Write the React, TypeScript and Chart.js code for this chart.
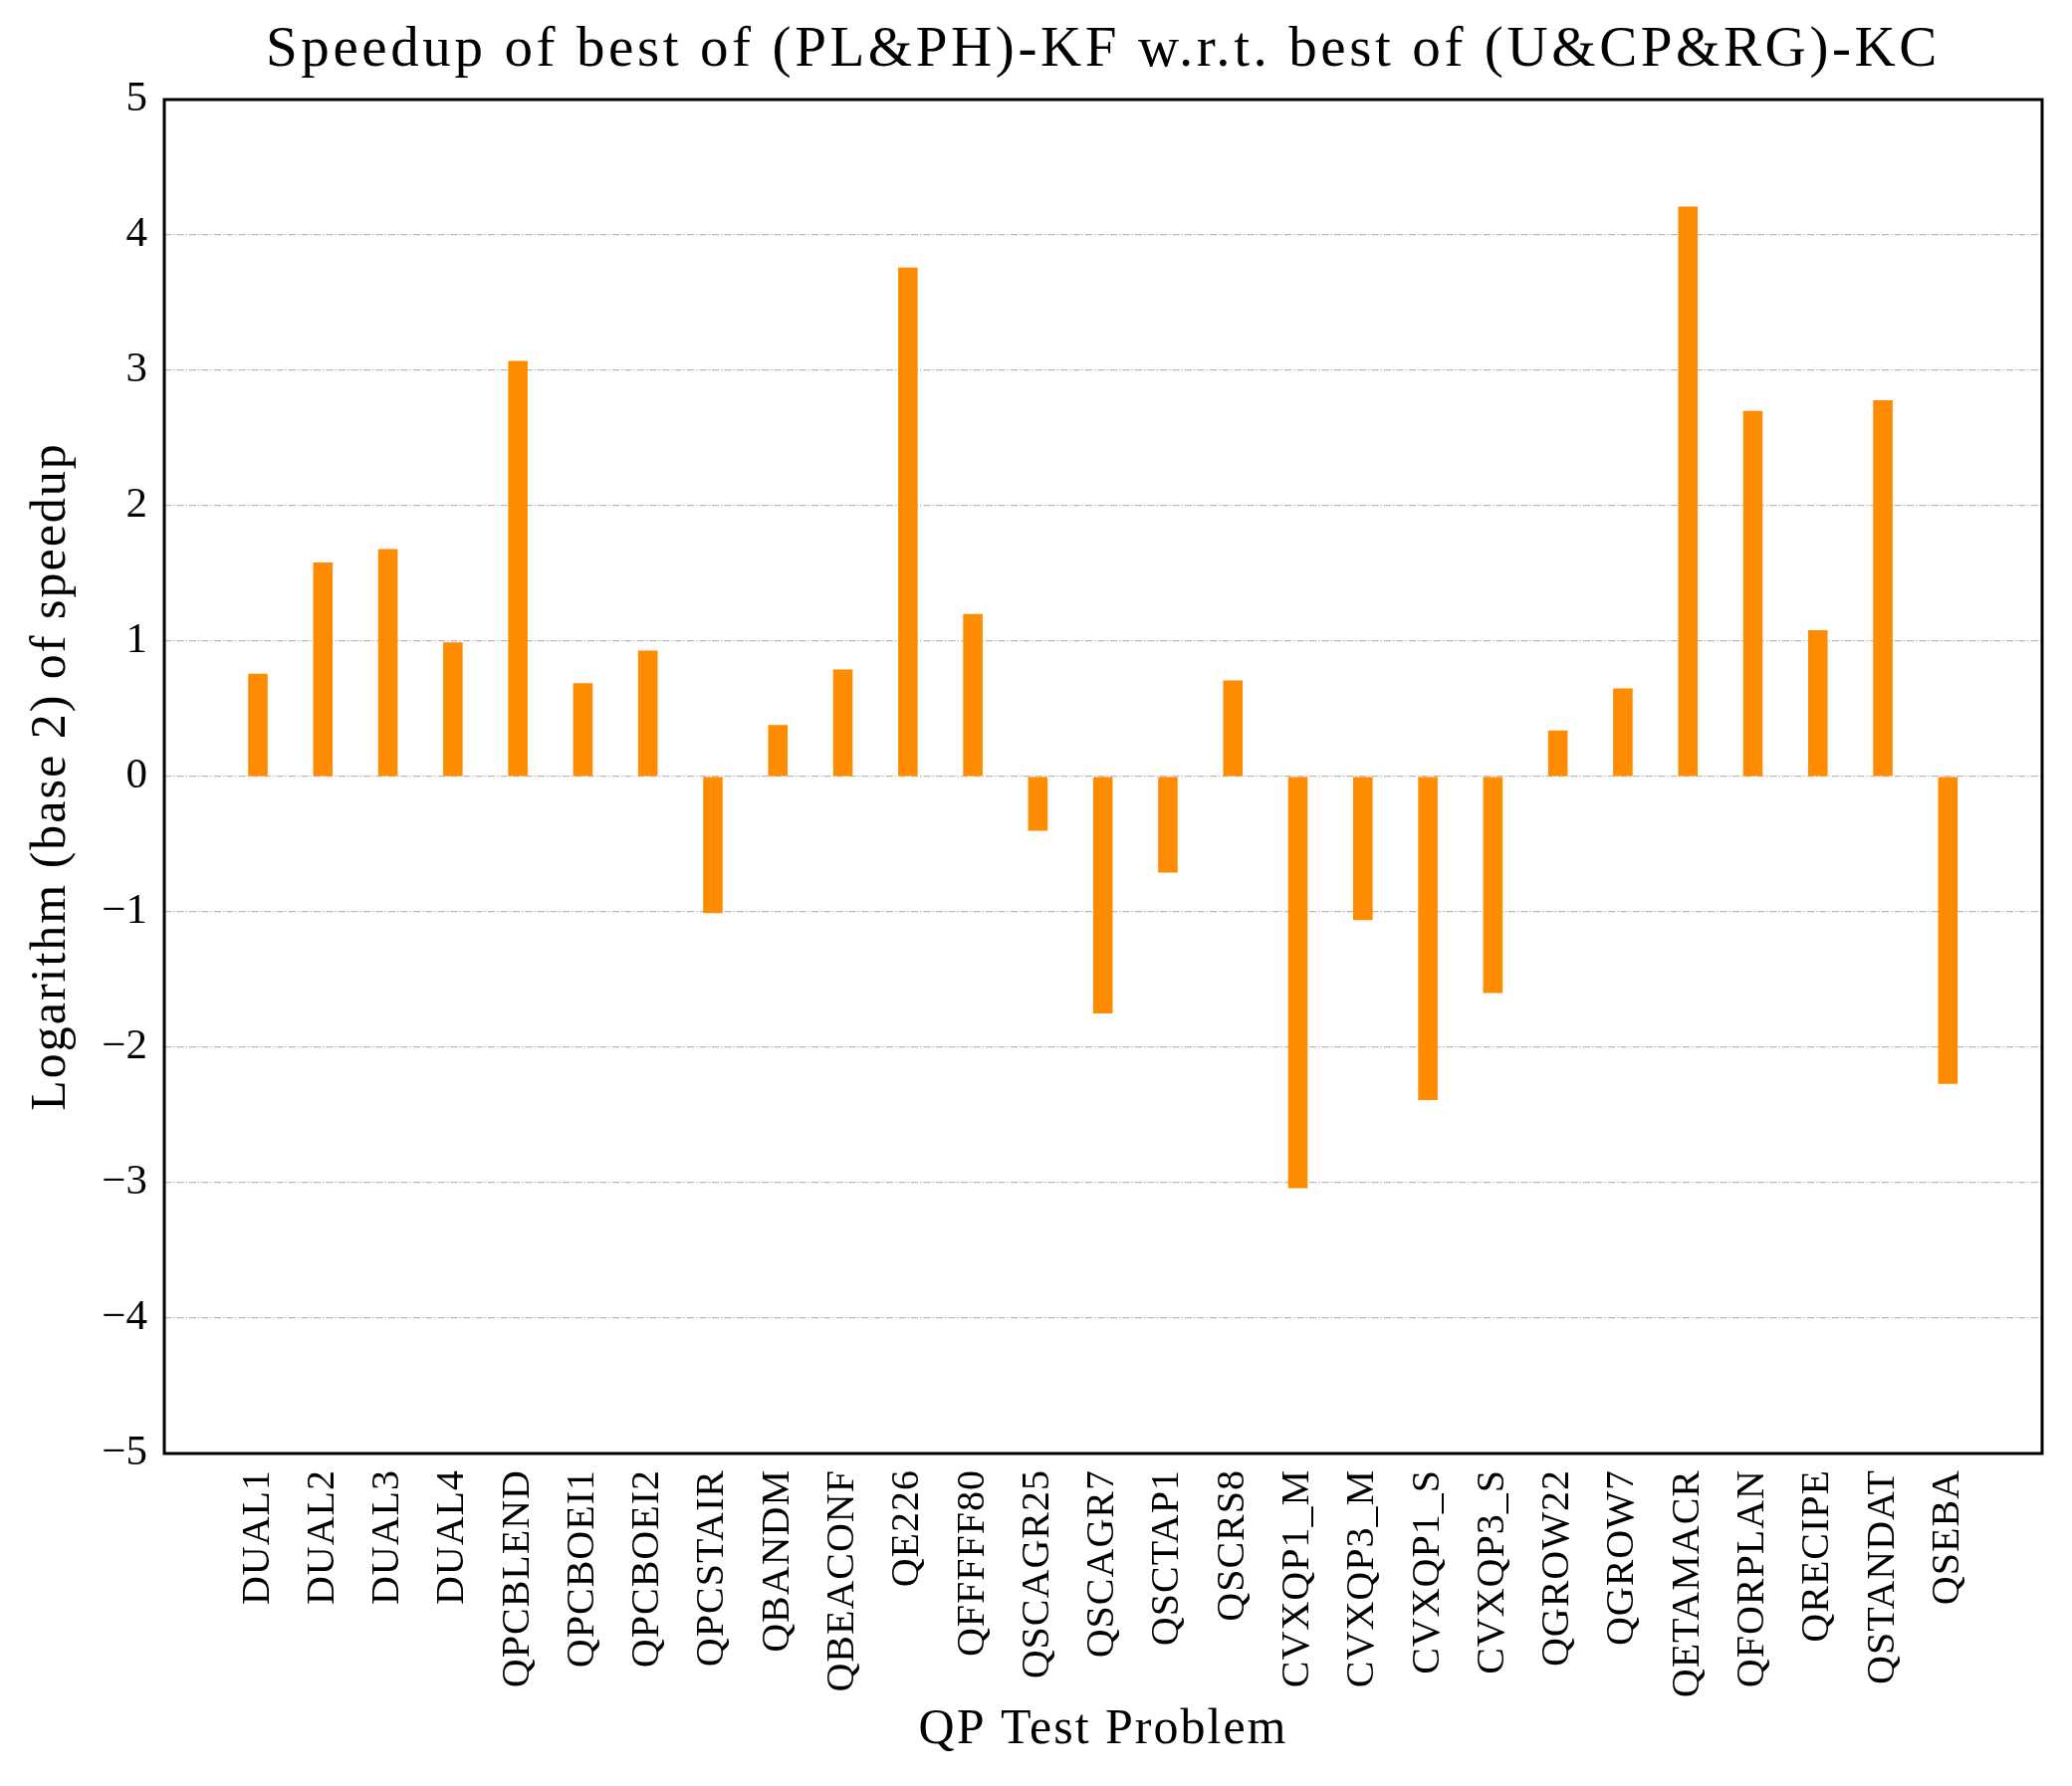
import React, { useEffect, useRef } from "react";
import { Chart, registerables } from "chart.js";

Chart.register(...registerables);

const problems: string[] = [
  "DUAL1", "DUAL2", "DUAL3", "DUAL4", "QPCBLEND", "QPCBOEI1", "QPCBOEI2",
  "QPCSTAIR", "QBANDM", "QBEACONF", "QE226", "QFFFFF80", "QSCAGR25",
  "QSCAGR7", "QSCTAP1", "QSCRS8", "CVXQP1_M", "CVXQP3_M", "CVXQP1_S",
  "CVXQP3_S", "QGROW22", "QGROW7", "QETAMACR", "QFORPLAN", "QRECIPE",
  "QSTANDAT", "QSEBA",
];

const log2Speedup: number[] = [
  0.76, 1.58, 1.68, 0.99, 3.07, 0.69, 0.93, -1.01, 0.38, 0.79, 3.76, 1.2,
  -0.4, -1.75, -0.71, 0.71, -3.04, -1.06, -2.39, -1.6, 0.34, 0.65, 4.21,
  2.7, 1.08, 2.78, -2.27,
];

const yTickValues: number[] = [-5, -4, -3, -2, -1, 0, 1, 2, 3, 4, 5];

const titleText = "Speedup of best of (PL&PH)-KF w.r.t. best of (U&CP&RG)-KC";
const xTitle = "QP Test Problem";
const yTitle = "Logarithm (base 2) of speedup";

const FONT = "'Liberation Serif', 'DejaVu Serif', serif";

// Widen the Times-like glyph spacing a little so text lengths follow the
// Computer Modern originals.
const spacingPlugin = {
  id: "letterSpacingByFont",
  beforeInit(chart: any) {
    const ctx = chart.ctx as any;
    if (ctx.__wrapped) return;
    const orig = ctx.fillText.bind(ctx);
    ctx.fillText = (t: string, x: number, y: number, mw?: number) => {
      const m = /(\d+(?:\.\d+)?)px/.exec(ctx.font);
      const size = m ? parseFloat(m[1]) : 12;
      let sp = "0px";
      if (size >= 55) sp = "3.6px";
      else if (size >= 48) sp = "2px";
      else if (size <= 41) sp = "1px";
      ctx.letterSpacing = sp;
      if (mw === undefined) orig(t, x, y);
      else orig(t, x, y, mw);
      ctx.letterSpacing = "0px";
    };
    ctx.__wrapped = true;
  },
};

const boxPlugin = {
  id: "frameBox",
  afterDraw(chart: any) {
    const { ctx, chartArea } = chart;
    ctx.save();
    ctx.strokeStyle = "#000";
    ctx.lineWidth = 3;
    ctx.strokeRect(
      chartArea.left,
      chartArea.top,
      chartArea.right - chartArea.left,
      chartArea.bottom - chartArea.top
    );
    ctx.restore();
  },
};

export default function App() {
  const canvasRef = useRef<HTMLCanvasElement | null>(null);

  useEffect(() => {
    if (!canvasRef.current) return;
    const chart = new Chart(canvasRef.current, {
      type: "bar",
      data: {
        datasets: [
          {
            data: log2Speedup.map((v, i) => ({ x: i, y: v })),
            backgroundColor: "#FF8C00",
            borderWidth: 0,
            barPercentage: 0.3,
            categoryPercentage: 1,
          },
        ],
      },
      plugins: [spacingPlugin, boxPlugin],
      options: {
        animation: false,
        responsive: true,
        maintainAspectRatio: false,
        devicePixelRatio: 1,
        layout: { padding: { top: 0, left: 0, right: 30, bottom: 0 } },
        plugins: {
          legend: { display: false },
          tooltip: { enabled: false },
          title: {
            display: true,
            fullSize: false,
            text: titleText,
            color: "#000",
            font: { family: FONT, size: 57, weight: "normal", lineHeight: 1.2 },
            padding: { top: 17, bottom: 14.6 },
          },
        },
        scales: {
          x: {
            type: "linear",
            min: -1.44,
            max: 27.45,
            offset: false,
            grid: { display: false, drawTicks: false },
            border: { display: false },
            afterBuildTicks: (scale: any) => {
              scale.ticks = problems.map((_, i) => ({ value: i }));
            },
            afterFit: (scale: any) => {
              scale.height = 334;
            },
            ticks: {
              autoSkip: false,
              minRotation: 90,
              maxRotation: 90,
              padding: 16,
              color: "#000",
              font: { family: FONT, size: 40 },
              callback: (value: any) => problems[value as number] ?? "",
            },
            title: {
              display: true,
              text: xTitle,
              color: "#000",
              font: { family: FONT, size: 50, lineHeight: 1.2 },
              padding: { top: 0, bottom: 26 },
            },
          },
          y: {
            type: "linear",
            min: -5,
            max: 5,
            afterBuildTicks: (scale: any) => {
              scale.ticks = yTickValues.map((v) => ({ value: v }));
            },
            afterFit: (scale: any) => {
              scale.width = 165;
            },
            grid: {
              display: true,
              color: "#b8b8b8",
              lineWidth: 1.2,
              drawTicks: false,
            },
            border: { display: false, dash: [7, 2, 1.5, 2] },
            ticks: {
              padding: 17,
              color: "#000",
              font: { family: FONT, size: 43 },
              callback: (value: any) =>
                (value as number) < 0 ? "\u2212" + Math.abs(value as number) : String(value),
            },
            title: {
              display: true,
              text: yTitle,
              color: "#000",
              font: { family: FONT, size: 50, lineHeight: 1.2 },
              padding: { top: 22, bottom: 0 },
            },
          },
        },
      },
    });
    return () => chart.destroy();
  }, []);

  return (
    <div
      style={{
        position: "fixed",
        left: 0,
        top: 0,
        width: 2081,
        height: 1794,
        background: "#fff",
      }}
    >
      <canvas ref={canvasRef} />
    </div>
  );
}
